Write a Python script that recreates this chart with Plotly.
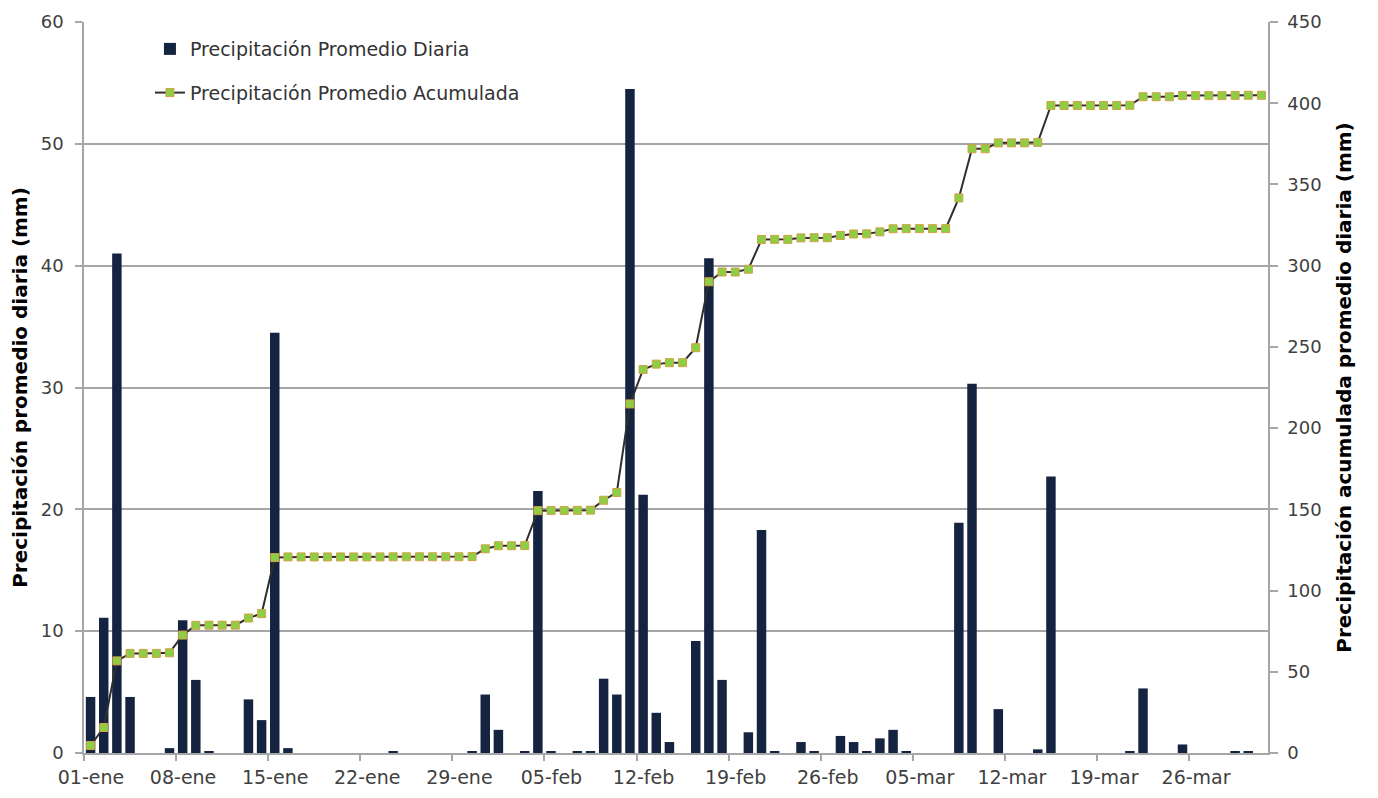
import plotly.graph_objects as go
import pandas as pd

start_date = "2015-01-01"

# Daily average precipitation (mm), one value per day, 01-ene .. 31-mar
daily_jan = [4.6, 11.1, 41.0, 4.6, 0, 0, 0.4, 10.9, 6.0, 0.1, 0, 0, 4.4, 2.7, 34.5, 0.4,
             0, 0, 0, 0, 0, 0, 0, 0.1, 0, 0, 0, 0, 0, 0.1, 4.8]
daily_feb = [1.9, 0, 0.1, 21.5, 0.1, 0, 0.1, 0.1, 6.1, 4.8, 54.5, 21.2, 3.3, 0.9, 0, 9.2,
             40.6, 6.0, 0, 1.7, 18.3, 0.1, 0, 0.9, 0.1, 0, 1.4, 0.9]
daily_mar = [0.1, 1.2, 1.9, 0.1, 0, 0, 0, 18.9, 30.3, 0, 3.6, 0, 0, 0.3, 22.7, 0, 0, 0, 0,
             0, 0.1, 5.3, 0, 0, 0.7, 0, 0, 0, 0.1, 0.1, 0]

# Accumulated average precipitation (mm)
cum_jan = [4.6, 15.7, 56.7, 61.3, 61.3, 61.3, 61.7, 72.6, 78.6, 78.7, 78.7, 78.7, 83.1, 85.8,
           120.3, 120.7, 120.7, 120.7, 120.7, 120.7, 120.7, 120.7, 120.7, 120.8, 120.8, 120.8,
           120.8, 120.8, 120.8, 120.9, 125.7]
cum_feb = [127.6, 127.6, 127.7, 149.2, 149.3, 149.3, 149.4, 149.5, 155.6, 160.4, 214.9, 236.1,
           239.4, 240.3, 240.3, 249.5, 290.1, 296.1, 296.1, 297.8, 316.1, 316.2, 316.2, 317.1,
           317.2, 317.2, 318.6, 319.5]
cum_mar = [319.6, 320.8, 322.7, 322.8, 322.8, 322.8, 322.8, 341.7, 372.0, 372.0, 375.6, 375.6,
           375.6, 375.9, 398.6, 398.6, 398.6, 398.6, 398.6, 398.6, 398.7, 404.0, 404.0, 404.0,
           404.7, 404.7, 404.7, 404.7, 404.8, 404.9, 404.9]

tick_dates = ["2015-01-01", "2015-01-08", "2015-01-15", "2015-01-22", "2015-01-29",
              "2015-02-05", "2015-02-12", "2015-02-19", "2015-02-26", "2015-03-05",
              "2015-03-12", "2015-03-19", "2015-03-26"]
tick_labels = ["01-ene", "08-ene", "15-ene", "22-ene", "29-ene", "05-feb", "12-feb",
               "19-feb", "26-feb", "05-mar", "12-mar", "19-mar", "26-mar"]

daily = daily_jan + daily_feb + daily_mar
cumulative = cum_jan + cum_feb + cum_mar
dates = pd.date_range(start_date, periods=len(daily), freq="D")

FONT = "DejaVu Sans"
DAY_MS = 86400000
AX = "#A6A6A6"

fig = go.Figure()
fig.add_trace(go.Bar(
    x=dates, y=daily, xperiod=DAY_MS, xperiodalignment="middle",
    name="Precipitación Promedio Diaria", legendgroup="a",
    marker=dict(color="#14233F", line=dict(width=0)),
))
fig.add_trace(go.Scatter(
    x=dates, y=cumulative, xperiod=DAY_MS, xperiodalignment="middle", yaxis="y2",
    mode="lines+markers", name="Precipitación Promedio Acumulada", legendgroup="b",
    line=dict(color="#2E2E2E", width=2),
    marker=dict(symbol="square", size=8, color="#8CCF45", line=dict(color="#D4A045", width=1)),
))

fig.update_layout(
    width=1370, height=790,
    margin=dict(l=76, r=110, t=14, b=45),
    paper_bgcolor="white", plot_bgcolor="white",
    font=dict(family=FONT, size=18, color="#404040"),
    bargap=0.28,
    showlegend=True,
    legend=dict(x=0.0557, y=0.989, xanchor="left", yanchor="top", bgcolor="rgba(0,0,0,0)",
                font=dict(family=FONT, size=19, color="#333333"), tracegroupgap=16,
                traceorder="grouped"),
    xaxis=dict(
        range=["2015-01-01", "2015-04-01"], tickmode="array", automargin=False,
        tickvals=tick_dates, ticktext=tick_labels, ticklabelshift=7,
        ticks="outside", ticklen=6, tickcolor=AX, tickwidth=1.5,
        showline=True, linecolor=AX, linewidth=1.5, showgrid=False,
        tickfont=dict(family=FONT, size=19, color="#404040"),
    ),
    yaxis=dict(
        range=[0, 60], dtick=10, automargin=False,
        ticks="outside", ticklen=7, tickcolor=AX, tickwidth=1.5, ticklabelstandoff=8,
        showline=True, linecolor=AX, linewidth=1.5,
        showgrid=True, gridcolor=AX, gridwidth=1.5, zeroline=False,
        tickfont=dict(family=FONT, size=18, color="#404040"),
        title=dict(text="<b>Precipitación promedio diaria (mm)</b>",
                   font=dict(family=FONT, size=20, color="#000000"), standoff=10),
    ),
    yaxis2=dict(
        range=[0, 450], dtick=50, overlaying="y", side="right", automargin=False,
        ticks="outside", ticklen=8, tickcolor=AX, tickwidth=1.5, ticklabelstandoff=6,
        showline=True, linecolor=AX, linewidth=1.5, showgrid=False, zeroline=False,
        tickfont=dict(family=FONT, size=18, color="#404040"),
        title=dict(text="<b>Precipitación acumulada promedio diaria (mm)</b>",
                   font=dict(family=FONT, size=20, color="#000000"), standoff=16),
    ),
)

fig.write_html("out.html")
